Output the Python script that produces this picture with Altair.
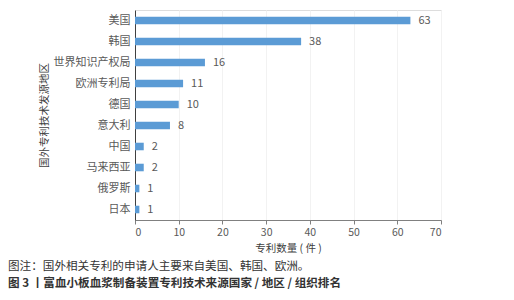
import altair as alt
import pandas as pd

countries = ["美国", "韩国", "世界知识产权局", "欧洲专利局", "德国", "意大利", "中国", "马来西亚", "俄罗斯", "日本"]
counts = [63, 38, 16, 11, 10, 8, 2, 2, 1, 1]
x_ticks = [0, 10, 20, 30, 40, 50, 60, 70]
note_text = "图注：国外相关专利的申请人主要来自美国、韩国、欧洲。"
fig_text = "图 3 丨富血小板血浆制备装置专利技术来源国家 / 地区 / 组织排名"
x_title = "专利数量 ( 件 )"
y_title = "国外专利技术发源地区"

df = pd.DataFrame({"country": countries, "count": counts})
FONT = "Noto Sans CJK SC"

base = alt.Chart(df)
y_enc = alt.Y("country:N", sort=countries,
              scale=alt.Scale(paddingInner=0.64, paddingOuter=0.32),
              axis=alt.Axis(title=y_title, ticks=False, labelPadding=5,
                            labelFontSize=11, labelColor="#595959", labelFont=FONT,
                            domainColor="#404040", titleFont=FONT, titleFontSize=10.5,
                            titleFontWeight="normal", titleColor="#404040",
                            titlePadding=4, grid=False))
x_enc = alt.X("count:Q", scale=alt.Scale(domain=[0, 70], nice=False),
              axis=alt.Axis(title=x_title, values=x_ticks, tickSize=4, tickColor="#808080",
                            domainColor="#808080", labelFontSize=10.5, labelColor="#595959",
                            labelFont=FONT, titleFont=FONT, titleFontSize=10.5,
                            titleFontWeight="normal", titleColor="#404040", titlePadding=6,
                            grid=True, gridColor="#f2f2f2", labelPadding=3))

bars = base.mark_bar(color="#5b9bd5").encode(x=x_enc, y=y_enc)
labels = base.mark_text(align="left", dx=8, fontSize=11, color="#595959", font=FONT).encode(
    x="count:Q", y=alt.Y("country:N", sort=countries), text="count:Q")

cap = pd.DataFrame({"t": [note_text]})
note = alt.Chart(cap).mark_text(align="left", baseline="middle", fontSize=11.6,
                                color="#333333", font=FONT).encode(
    x=alt.value(-127), y=alt.value(257), text="t:N")
cap2 = pd.DataFrame({"t": [fig_text]})
fig = alt.Chart(cap2).mark_text(align="left", baseline="middle", fontSize=11.6,
                                fontWeight="bold", color="#333333", font=FONT).encode(
    x=alt.value(-127), y=alt.value(274), text="t:N")

chart = alt.layer(bars, labels, note, fig).properties(
    width=306, height=210,
    autosize=alt.AutoSizeParams(type="none"),
    padding={"left": 135, "top": 10, "right": 73, "bottom": 80},
).configure_view(stroke=None).configure(background="white")

chart.save("out.html", embed_options={"renderer": "svg", "actions": False})
